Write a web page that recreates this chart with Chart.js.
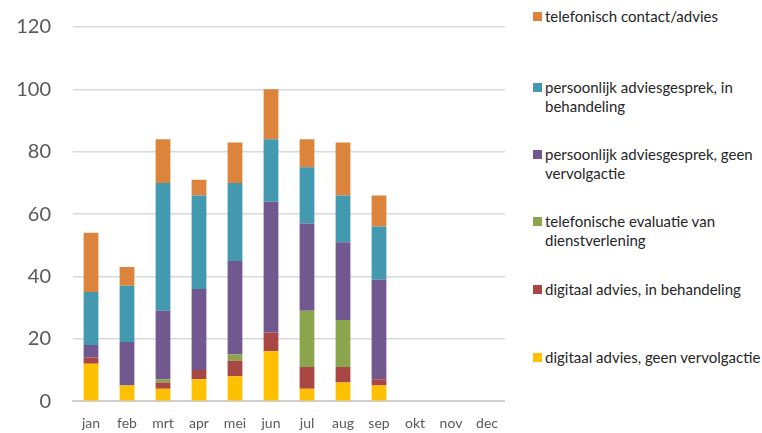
<!DOCTYPE html>
<html>
<head>
<meta charset="utf-8">
<script src="https://cdn.jsdelivr.net/npm/chart.js@4"></script>
<style>
  body { margin: 0; background: #fff; overflow: hidden; }
  #wrap { position: relative; width: 762px; height: 433px; overflow: hidden; }
  #c { position: absolute; left: 0; top: -7px; }
  #legend { position: absolute; left: 533px; top: 0; font-family: Lato, "Liberation Sans", sans-serif; font-size: 15px; color: #262626; }
  .item { position: absolute; left: 0; width: 229px; line-height: 19px; padding-left: 12px; white-space: nowrap; }
  .item span { position: absolute; left: 0; top: 5px; width: 9px; height: 9px; }
</style>
</head>
<body>
<div id="wrap">
  <canvas id="c" width="505" height="445"></canvas>
  <div id="legend"></div>
</div>
<script>
const months = ['jan','feb','mrt','apr','mei','jun','jul','aug','sep','okt','nov','dec'];
const digitaalGeen = [12, 5, 4, 7, 8, 16, 4, 6, 5, null, null, null];
const digitaalBeh = [2, 0, 2, 3, 5, 6, 7, 5, 2, null, null, null];
const telEvaluatie = [0, 0, 1, 0, 2, 0, 18, 15, 0, null, null, null];
const persGeen = [4, 14, 22, 26, 30, 42, 28, 25, 32, null, null, null];
const persBeh = [17, 18, 41, 30, 25, 20, 18, 15, 17, null, null, null];
const telContact = [19, 6, 14, 5, 13, 16, 9, 17, 10, null, null, null];
const yTicks = [0, 20, 40, 60, 80, 100, 120];

const series = [
  { label: 'digitaal advies, geen vervolgactie', data: digitaalGeen, color: '#ffc000' },
  { label: 'digitaal advies, in behandeling', data: digitaalBeh, color: '#a94744' },
  { label: 'telefonische evaluatie van\ndienstverlening', data: telEvaluatie, color: '#8aa54b' },
  { label: 'persoonlijk adviesgesprek, geen\nvervolgactie', data: persGeen, color: '#71588f' },
  { label: 'persoonlijk adviesgesprek, in\nbehandeling', data: persBeh, color: '#4299b0' },
  { label: 'telefonisch contact/advies', data: telContact, color: '#dd843c' }
];

new Chart(document.getElementById('c'), {
  type: 'bar',
  data: {
    labels: months,
    datasets: series.map(s => ({
      label: s.label,
      data: s.data,
      backgroundColor: s.color,
      borderWidth: 0,
      categoryPercentage: 1,
      barPercentage: 0.41
    }))
  },
  options: {
    responsive: false,
    animation: false,
    layout: { padding: { top: 1, right: 0, bottom: 0, left: 0 } },
    plugins: { legend: { display: false }, tooltip: { enabled: false } },
    scales: {
      x: {
        stacked: true,
        grid: { display: false },
        border: { display: true, color: '#d0d0d0', width: 2 },
        ticks: { color: '#595959', font: { family: 'Lato', size: 14 }, padding: 6 }
      },
      y: {
        stacked: true,
        min: 0, max: 120,
        afterBuildTicks: axis => { axis.ticks = yTicks.map(v => ({ value: v })); },
        afterFit: axis => { axis.width = 73; },
        grid: { color: '#d9d9d9', lineWidth: 1.5, drawTicks: false },
        border: { display: false },
        ticks: { color: '#595959', font: { family: 'Lato', size: 20 }, padding: 22 }
      }
    }
  }
});

// legend on the right, top to bottom like the original
const legend = document.getElementById('legend');
const tops = [7, 78, 145, 212, 280, 348];
series.slice().reverse().forEach((s, i) => {
  const d = document.createElement('div');
  d.className = 'item';
  d.style.top = tops[i] + 'px';
  d.innerHTML = '<span style="background:' + s.color + '"></span>' + s.label.replace('\n', '<br>');
  legend.appendChild(d);
});
</script>
</body>
</html>
